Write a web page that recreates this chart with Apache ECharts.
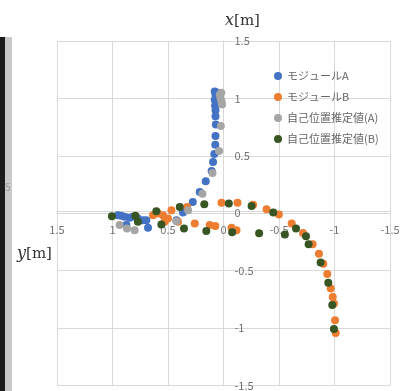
<!DOCTYPE html>
<html>
<head>
<meta charset="utf-8">
<script src="https://cdn.jsdelivr.net/npm/echarts@6/dist/echarts.min.js"></script>
<style>
  html, body { margin: 0; padding: 0; background: #fff; }
  #chart { width: 404px; height: 391px; }
</style>
</head>
<body>
<div id="chart"></div>
<script>
// each point: [y (m), x (m)]  -> horizontal axis is y, vertical axis is x
const moduleA = [
  [0.079, 1.060], [0.072, 1.032], [0.05, 1.05], [0.06, 1.0], [0.079, 0.989],
  [0.05, 0.96], [0.076, 0.937], [0.072, 0.897], [0.072, 0.845], [0.069, 0.773],
  [0.072, 0.672], [0.074, 0.597], [0.083, 0.515], [0.094, 0.446], [0.107, 0.368],
  [0.160, 0.278], [0.214, 0.184], [0.277, 0.098], [0.365, 0.006], [0.424, -0.060],
  [0.680, -0.126], [0.695, -0.060], [0.726, -0.060], [0.771, -0.046], [0.816, -0.031],
  [0.846, -0.040], [0.891, -0.031], [0.921, -0.022], [0.951, -0.017], [0.875, -0.103]
];
const moduleB = [
  [0.635, -0.017], [0.590, -0.003], [0.545, -0.017], [0.500, -0.046], [0.530, -0.074],
  [0.469, 0.026], [0.410, -0.074], [0.327, 0.055], [0.259, -0.089], [0.124, -0.103],
  [0.074, -0.110], [0.018, 0.092], [-0.126, 0.092], [-0.267, 0.075], [-0.388, 0.034],
  [-0.499, -0.011], [-0.072, -0.126], [-0.117, -0.147], [-0.614, -0.089], [-0.716, -0.171],
  [-0.803, -0.270], [-0.860, -0.353], [-0.899, -0.440], [-0.935, -0.528], [-0.966, -0.655],
  [-0.984, -0.729], [-0.995, -0.787], [-1.005, -0.931], [-1.011, -1.043]
];
const estA = [
  [0.033, 1.032], [0.027, 1.003], [0.018, 0.974], [0.013, 0.946], [0.02, 1.05],
  [0.024, 0.759], [0.040, 0.543], [0.099, 0.351], [0.190, 0.170], [0.319, 0.026],
  [0.424, -0.069], [0.801, -0.147], [0.870, -0.132], [0.936, -0.103]
];
const estB = [
  [1.005, -0.026], [0.794, -0.022], [0.771, -0.074], [0.605, 0.017], [0.560, -0.097],
  [0.394, 0.055], [0.356, -0.132], [0.173, 0.078], [0.155, -0.155], [-0.048, 0.084],
  [-0.078, -0.166], [-0.253, 0.064], [-0.321, -0.175], [-0.448, 0.006], [-0.553, -0.184],
  [-0.653, -0.132], [-0.743, -0.201], [-0.767, -0.270], [-0.875, -0.428], [-0.944, -0.606],
  [-0.980, -0.798], [-0.995, -1.009]
];
const seriesNames = ["モジュールA", "モジュールB", "自己位置推定値(A)", "自己位置推定値(B)"];
const seriesColors = ["#4472C4", "#ED7D31", "#A5A5A5", "#375623"];

const font = "'Noto Sans CJK JP', 'Noto Sans', sans-serif";
const gridColor = "#d9d9d9";
const labelColor = "#707070";

const plotW = 333, plotH = 348;

const chart = echarts.init(document.getElementById("chart"));

const axisCommon = {
  type: "value",
  min: -1.5,
  max: 1.5,
  interval: 0.5,
  axisLine: { show: true, onZero: false, lineStyle: { color: gridColor } },
  axisTick: { show: false },
  splitLine: { show: true, lineStyle: { color: gridColor } },
};

chart.setOption({
  animation: false,
  grid: { left: 57, right: 14, top: 41, bottom: 2 },
  legend: {
    orient: "vertical",
    left: 269,
    top: 64,
    icon: "circle",
    itemWidth: 8,
    itemHeight: 8,
    itemGap: 7,
    textStyle: { fontFamily: font, fontSize: 11, color: "#666", lineHeight: 14 },
    data: seriesNames,
  },
  xAxis: {
    ...axisCommon,
    inverse: true,
    position: "bottom",
    offset: -plotH / 2, // axes cross at the origin
    axisLabel: { margin: 13, color: labelColor, fontSize: 11, fontFamily: font },
  },
  yAxis: {
    ...axisCommon,
    position: "left",
    offset: -plotW / 2,
    axisLabel: { inside: true, margin: 11, color: labelColor, fontSize: 11, fontFamily: font },
  },
  series: [moduleA, moduleB, estA, estB].map((d, i) => ({
    name: seriesNames[i],
    type: "scatter",
    symbolSize: 8,
    itemStyle: { color: seriesColors[i], opacity: 1 },
    data: d,
  })),
  graphic: [
    // cropped neighbour strip on the left edge
    { type: "rect", left: 0, top: 37, shape: { width: 12, height: 354 }, style: { fill: "#c9c9c9" }, silent: true },
    { type: "rect", left: 0, top: 37, shape: { width: 5, height: 354 }, style: { fill: "#1c1c1c" }, silent: true },
    { type: "text", left: 5, top: 182, style: { text: "5", fill: "#999", fontSize: 10, fontFamily: font } },
    {
      type: "text", left: 225, top: 13,
      style: {
        text: "{i|x}[m]",
        rich: { i: { fontStyle: "italic", fontFamily: "DejaVu Serif", fontSize: 16, fill: "#333" } },
        fontFamily: "DejaVu Serif", fontSize: 15, fill: "#333",
      },
    },
    {
      type: "text", left: 17, top: 246,
      style: {
        text: "{i|y}[m]",
        rich: { i: { fontStyle: "italic", fontFamily: "DejaVu Serif", fontSize: 16, fill: "#333" } },
        fontFamily: "DejaVu Serif", fontSize: 15, fill: "#333",
      },
    },
  ],
});
</script>
</body>
</html>
